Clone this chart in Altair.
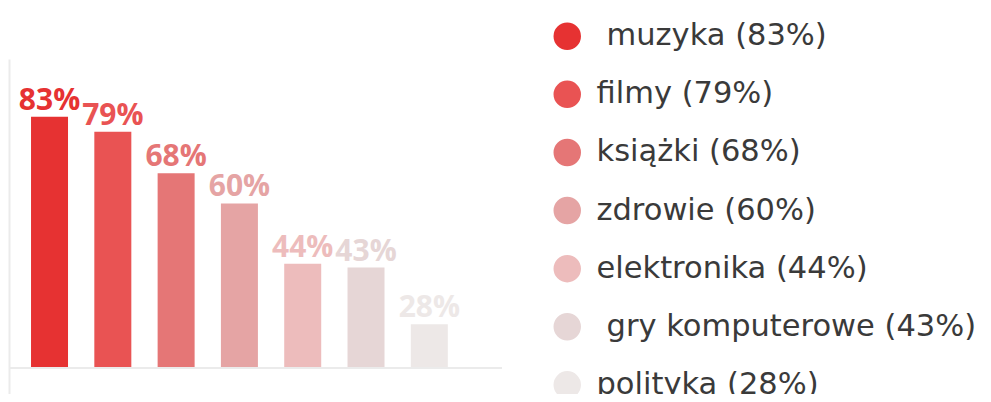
import altair as alt
import pandas as pd

categories = ["muzyka", "filmy", "książki", "zdrowie", "elektronika", "gry komputerowe", "polityka"]
values = [83, 79, 68, 60, 44, 43, 28]
legend_labels = ["\u200b\u2004muzyka (83%)", "filmy (79%)", "książki (68%)", "zdrowie (60%)",
                 "elektronika (44%)", "\u200b\u2004gry komputerowe (43%)", "polityka (28%)"]
bar_labels = ["83%", "79%", "68%", "60%", "44%", "43%", "28%"]
colors = ["#E63232", "#E95353", "#E57676", "#E5A4A4", "#EDBCBC", "#E6D6D6", "#EDE8E7"]

df = pd.DataFrame({"cat": categories, "value": values, "legend": legend_labels, "label": bar_labels})

BASE = 16.4
y_scale = alt.Scale(domain=[9.5, 98.3], nice=False, zero=False)
x_enc = alt.X("cat:N", sort=categories,
              scale=alt.Scale(paddingInner=0.4155, paddingOuter=0.602, align=0.289),
              axis=None)
color_enc = alt.Color("legend:N", sort=legend_labels,
                      scale=alt.Scale(domain=legend_labels, range=colors),
                      legend=alt.Legend(title=None, orient="none", legendX=543, legendY=-38,
                                        symbolType="circle", symbolSize=755, symbolStrokeWidth=0,
                                        symbolOpacity=1, labelFont="DejaVu Sans", labelFontSize=30.5,
                                        labelColor="#3a3a3a", labelOffset=14, rowPadding=27.1,
                                        labelLimit=500))

bars = alt.Chart(df).mark_bar().encode(
    x=x_enc,
    y=alt.Y("value:Q", scale=y_scale,
            axis=alt.Axis(labels=False, ticks=False, grid=False, title=None,
                          domainColor="#ebebeb", domainWidth=2)),
    y2=alt.Y2(datum=BASE),
    color=color_enc,
)

texts = alt.Chart(df).mark_text(font="Open Sans", fontWeight="bold", fontSize=30,
                                baseline="alphabetic", dy=-7).encode(
    x=x_enc,
    y=alt.Y("value:Q", scale=y_scale),
    text="label:N",
    color=alt.Color("legend:N", sort=legend_labels,
                    scale=alt.Scale(domain=legend_labels, range=colors), legend=None),
)

baseline = alt.Chart(df).mark_rule(color="#ebebeb", strokeWidth=2).encode(
    y=alt.Y(datum=BASE, scale=y_scale)
)

chart = alt.layer(bars, baseline, texts).properties(
    width=493, height=335,
    autosize=alt.AutoSizeParams(type="none"),
    padding={"left": 1, "top": 51, "right": 481, "bottom": 0},
).configure_view(stroke=None)

chart.save("out.html", embed_options={"renderer": "svg", "actions": False})
